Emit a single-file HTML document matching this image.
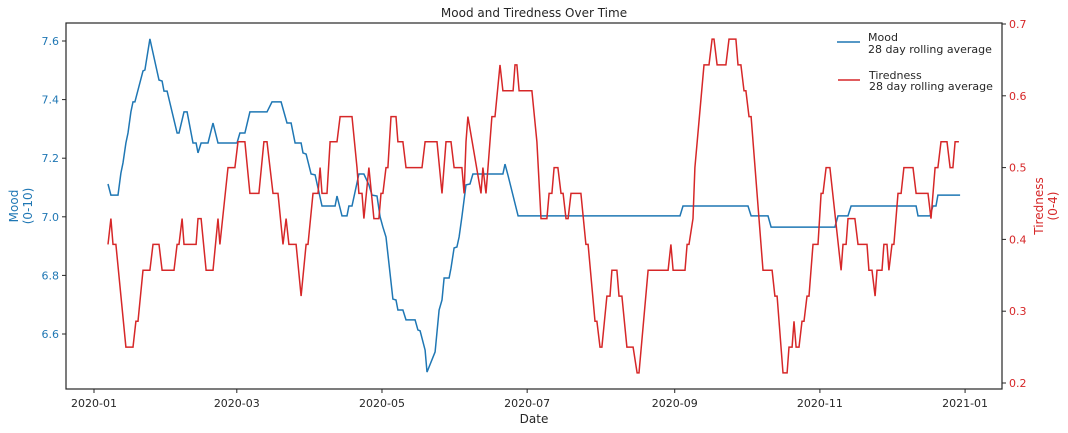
<!DOCTYPE html>
<html><head><meta charset="utf-8"><style>
html,body{margin:0;padding:0;background:#fff;}
svg{display:block;font-family:"DejaVu Sans","Liberation Sans",sans-serif;}
</style></head><body>
<svg id="chart" width="1068" height="433" xmlns="http://www.w3.org/2000/svg"></svg>
<script>
// ---- data ----
const moodDays=[5.9,7.1,10.1,11.3,12.2,13.4,14.3,15.5,16.4,17.2,20.6,21.4,23.5,27.3,28.6,29.4,30.7,34.9,35.7,37.8,39.1,41.6,42.9,43.7,45.0,47.9,50.0,52.1,60.1,61.3,63.4,65.5,72.7,74.8,78.6,81.1,82.8,84.5,87.0,87.8,89.1,91.2,92.9,95.8,101.3,102.1,104.2,106.3,107.1,108.4,111.3,113.4,115.5,116.8,118.9,120.2,121.4,122.7,125.6,126.9,127.7,129.8,131.1,134.9,136.1,137.0,139.1,139.9,143.3,145.0,146.2,147.1,149.2,150.0,151.3,152.5,153.4,154.6,156.3,158.0,159.2,171.8,172.7,173.9,178.2,246.2,247.5,274.8,276.1,283.2,284.5,311.3,312.6,316.8,318.1,345.4,346.2,351.3,352.5,353.8,354.6,363.9];
const moodValues=[7.112,7.074,7.074,7.149,7.184,7.252,7.286,7.358,7.392,7.392,7.498,7.501,7.607,7.467,7.463,7.429,7.429,7.286,7.286,7.358,7.358,7.252,7.252,7.218,7.252,7.252,7.320,7.252,7.252,7.286,7.286,7.358,7.358,7.392,7.392,7.320,7.320,7.252,7.252,7.218,7.214,7.146,7.143,7.037,7.037,7.071,7.003,7.003,7.037,7.037,7.146,7.146,7.109,7.074,7.071,7.0,6.965,6.931,6.719,6.716,6.682,6.682,6.648,6.648,6.614,6.611,6.545,6.470,6.539,6.682,6.716,6.791,6.791,6.825,6.894,6.897,6.931,7.0,7.109,7.112,7.146,7.146,7.180,7.143,7.003,7.003,7.037,7.037,7.003,7.003,6.965,6.965,7.003,7.003,7.037,7.037,7.003,7.003,7.037,7.037,7.074,7.074];
const tiredDays=[5.9,7.1,8.0,9.2,13.4,16.4,17.6,18.5,20.6,23.5,24.8,27.3,28.6,33.6,34.9,35.7,37.0,37.8,42.9,43.7,45.0,47.1,50.0,52.1,52.9,56.3,59.2,60.5,63.4,65.5,69.3,71.4,72.7,75.2,77.3,79.4,80.7,81.9,84.9,87.0,89.1,89.9,92.0,94.1,95.0,95.8,97.9,99.2,102.1,103.4,108.4,110.5,111.3,112.6,113.4,115.5,117.6,119.7,120.6,121.4,122.7,123.5,124.8,126.9,127.7,129.8,131.1,137.8,139.1,144.1,146.2,147.9,150.0,151.3,154.6,155.5,156.3,157.1,162.6,163.4,164.7,167.2,168.5,170.6,171.8,176.1,176.9,177.7,178.6,184.0,186.1,187.8,190.3,191.2,192.4,193.3,194.9,196.2,197.1,198.3,199.2,200.4,204.6,206.7,207.6,210.5,211.3,212.6,213.4,215.5,216.8,217.6,219.7,220.6,221.8,223.9,226.5,228.2,229.0,232.8,241.2,242.4,243.3,248.3,249.2,250.0,251.7,252.5,256.3,258.4,259.7,260.5,261.8,265.5,266.8,269.7,270.6,271.8,273.1,273.9,275.2,276.1,281.1,284.9,286.1,287.0,289.5,291.2,292.0,293.3,294.1,295.0,296.2,297.5,298.3,299.6,300.4,302.1,304.2,305.5,306.3,307.6,309.2,313.9,314.7,316.0,316.8,319.7,321.0,324.8,325.6,326.9,328.2,329.0,331.1,331.9,333.2,334.0,335.3,336.1,337.8,339.1,340.3,344.1,345.4,350.4,351.7,353.4,354.6,355.9,358.4,359.7,360.9,361.8,363.4];
const tiredValues=[.393,.429,.393,.393,.250,.250,.286,.286,.357,.357,.393,.393,.357,.357,.393,.393,.429,.393,.393,.429,.429,.357,.357,.429,.393,.500,.500,.536,.536,.464,.464,.536,.536,.464,.464,.393,.429,.393,.393,.321,.393,.393,.464,.464,.500,.464,.464,.536,.536,.571,.571,.500,.464,.464,.429,.500,.429,.429,.464,.464,.500,.500,.571,.571,.536,.536,.500,.500,.536,.536,.464,.536,.536,.500,.500,.464,.536,.571,.464,.500,.464,.571,.571,.643,.607,.607,.643,.643,.607,.607,.536,.429,.429,.464,.464,.500,.500,.464,.464,.429,.429,.464,.464,.393,.393,.286,.286,.250,.250,.321,.321,.357,.357,.321,.321,.250,.250,.214,.214,.357,.357,.393,.357,.357,.393,.393,.429,.500,.643,.643,.679,.679,.643,.643,.679,.679,.643,.643,.607,.607,.571,.571,.357,.357,.321,.321,.214,.214,.250,.250,.286,.250,.250,.286,.286,.321,.321,.393,.393,.464,.464,.500,.500,.357,.393,.393,.429,.429,.393,.393,.357,.357,.321,.357,.357,.393,.393,.357,.393,.393,.464,.464,.500,.500,.464,.464,.429,.500,.500,.536,.536,.500,.500,.536,.536];
const xTickDays=[0,60,121,182,244,305,366];
const xTickLabels=["2020-01","2020-03","2020-05","2020-07","2020-09","2020-11","2021-01"];
const moodTicks=[6.6,6.8,7.0,7.2,7.4,7.6];
const tiredTicks=[0.2,0.3,0.4,0.5,0.6,0.7];

const NS="http://www.w3.org/2000/svg";
const svg=document.getElementById('chart');
const L=66,R=1002,T=23,B=389;
const xS=d=>94+d*2.38;
const yM=v=>41+(7.6-v)*293;
const yT=v=>24+(0.7-v)*718;
const BLUE="#1f77b4",RED="#d62728",INK="#262626";
function mk(tag,attrs,parent){const e=document.createElementNS(NS,tag);for(const k in attrs)e.setAttribute(k,attrs[k]);(parent||svg).appendChild(e);return e;}
function txt(s,attrs){const e=mk('text',attrs);e.textContent=s;return e;}

let d1=moodDays.map((d,i)=>(i?'L':'M')+xS(d).toFixed(1)+','+yM(moodValues[i]).toFixed(1)).join('');
const moodLine=mk('path',{d:d1,fill:'none',stroke:BLUE,'stroke-width':1.5});


let d2=tiredDays.map((d,i)=>(i?'L':'M')+xS(d).toFixed(1)+','+yT(tiredValues[i]).toFixed(1)).join('');
const tLine=mk('path',{d:d2,fill:'none',stroke:RED,'stroke-width':1.5});



const frame=mk('rect',{x:L,y:T,width:R-L,height:B-T,fill:'none',stroke:INK,'stroke-width':1.2});



xTickDays.forEach((d,i)=>{const x=xS(d);
 mk('line',{x1:x,x2:x,y1:B,y2:B+4,stroke:INK});
 const t=txt(xTickLabels[i],{x:x,y:B+18,'text-anchor':'middle','font-size':11,fill:INK});
 
 
});
moodTicks.forEach(v=>{const y=yM(v);
 mk('line',{x1:L-4,x2:L,y1:y,y2:y,stroke:INK});
 const t=txt(v.toFixed(1),{x:L-7,y:y+4,'text-anchor':'end','font-size':11,fill:BLUE});
 
 
});
tiredTicks.forEach(v=>{const y=yT(v);
 mk('line',{x1:R,x2:R+4,y1:y,y2:y,stroke:INK});
 const t=txt(v.toFixed(1),{x:R+7,y:y+4,'text-anchor':'start','font-size':11,fill:RED});
 
 
});
</script>
<svg style="position:absolute;left:0;top:0" width="1068" height="433" xmlns="http://www.w3.org/2000/svg" font-family="DejaVu Sans, Liberation Sans, sans-serif">
 <text x="534" y="17" text-anchor="middle" font-size="12" fill="#262626">Mood and Tiredness Over Time</text>
 <text x="534" y="423" text-anchor="middle" font-size="12" fill="#262626">Date</text>
 <g transform="translate(22,206) rotate(-90)" fill="#1f77b4" font-size="12" text-anchor="middle">
  <text x="0" y="-4">Mood</text><text x="0" y="10">(0-10)</text></g>
 <g transform="translate(1043,206) rotate(-90)" fill="#d62728" font-size="12" text-anchor="middle">
  <text x="0" y="0">Tiredness</text><text x="0" y="14">(0-4)</text></g>
 <g font-size="11" fill="#262626">
  <g>
   <line x1="837" x2="860" y1="42" y2="42" stroke="#1f77b4" stroke-width="1.5"/>
   <text x="868" y="41">Mood</text><text x="868" y="53">28 day rolling average</text></g>
  <g>
   <line x1="838" x2="860" y1="80" y2="80" stroke="#d62728" stroke-width="1.5"/>
   <text x="869" y="79">Tiredness</text><text x="869" y="90">28 day rolling average</text></g>
 </g>
</svg>
</body></html>
